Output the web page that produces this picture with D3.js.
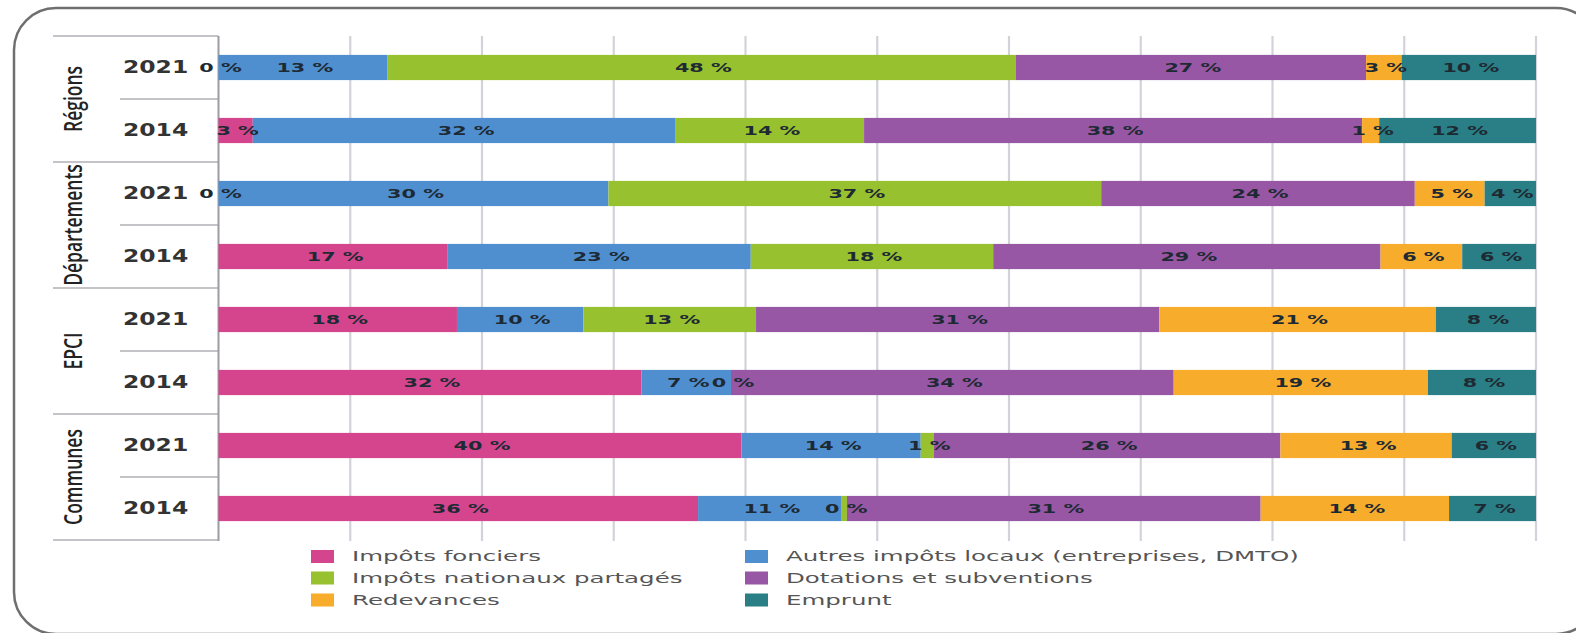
<!DOCTYPE html>
<html>
<head>
<meta charset="utf-8">
<script src="https://cdn.jsdelivr.net/npm/d3@7"></script>
<style>
  html, body { margin: 0; padding: 0; background: #fff; }
  svg { display: block; }
</style>
</head>
<body>
<svg id="chart" width="1576" height="633"></svg>
<script>
// ---- data ----
const groups = ["Régions", "Départements", "EPCI", "Communes"];
const years = ["2021", "2014"];
const seriesNames = [
  "Impôts fonciers",
  "Autres impôts locaux (entreprises, DMTO)",
  "Impôts nationaux partagés",
  "Dotations et subventions",
  "Redevances",
  "Emprunt"
];
const seriesColors = ["#d4458e", "#4f8fd0", "#97c12e", "#9757a5", "#f7ac2c", "#2a7f86"];
// rows: Régions 2021, Régions 2014, Départements 2021, Départements 2014, EPCI 2021, EPCI 2014, Communes 2021, Communes 2014
const impotsFonciers   = [0,    2.6,  0,    17.4, 18.1, 32.1, 39.7, 36.4];
const autresImpots     = [12.8, 32.1, 29.6, 23.0, 9.6,  6.8,  13.6, 10.9];
const impotsNationaux  = [47.7, 14.3, 37.4, 18.4, 13.1, 0,    1.0,  0.4];
const dotations        = [26.6, 37.8, 23.8, 29.4, 30.6, 33.6, 26.3, 31.4];
const redevances       = [2.7,  1.3,  5.3,  6.2,  21.0, 19.3, 13.0, 14.3];
const emprunt          = [10.2, 11.9, 3.9,  5.6,  7.6,  8.2,  6.4,  6.6];
const xTicks = [0, 10, 20, 30, 40, 50, 60, 70, 80, 90, 100];

const seriesValues = [impotsFonciers, autresImpots, impotsNationaux, dotations, redevances, emprunt];

(function () {
// ---- build rows ----
const rows = [];
groups.forEach(g => years.forEach(yr => rows.push({ group: g, year: yr, key: g + "|" + yr })));
rows.forEach((r, i) => seriesNames.forEach((s, j) => { r[s] = seriesValues[j][i]; }));

const svg = d3.select("#chart");

// frame
svg.append("rect")
  .attr("x", 14).attr("y", 8)
  .attr("width", 1584).attr("height", 626)
  .attr("rx", 42).attr("ry", 42)
  .attr("fill", "none").attr("stroke", "#6f6f6f").attr("stroke-width", 2.5);

const yTop = 36, yBottom = 540;
const x = d3.scaleLinear().domain([0, 100]).range([218.5, 1536]);
const y = d3.scaleBand().domain(rows.map(r => r.key)).range([yTop, yBottom]).paddingInner(0).paddingOuter(0);
const color = d3.scaleOrdinal().domain(seriesNames).range(seriesColors);

// gridlines
const grid = svg.append("g");
grid.selectAll("line").data(xTicks.slice(1)).join("line")
  .attr("x1", d => x(d)).attr("x2", d => x(d))
  .attr("y1", yTop).attr("y2", yBottom + 1)
  .attr("stroke", "#d2d3da").attr("stroke-width", 2.2);

// left label column lines
const lines = svg.append("g").attr("stroke", "#c4c4c8").attr("stroke-width", 2);
lines.append("line").attr("x1", 53).attr("x2", x(0)).attr("y1", yTop).attr("y2", yTop);
rows.forEach((r, i) => {
  const yy = y(r.key) + y.bandwidth();
  const isGroupEnd = (i % years.length) === years.length - 1;
  lines.append("line")
    .attr("x1", isGroupEnd ? 53 : 120).attr("x2", x(0))
    .attr("y1", yy).attr("y2", yy);
});
svg.append("line")
  .attr("x1", x(0)).attr("x2", x(0)).attr("y1", yTop).attr("y2", yBottom + 1)
  .attr("stroke", "#9c9ca4").attr("stroke-width", 2);

// stacked bars
const stack = d3.stack().keys(seriesNames);
const stacked = stack(rows);
const barH = y.bandwidth() * 0.4;

const layers = svg.append("g").selectAll("g").data(stacked).join("g")
  .attr("fill", d => color(d.key));
layers.selectAll("rect").data(d => d).join("rect")
  .attr("x", d => x(d[0]))
  .attr("width", d => x(d[1]) - x(d[0]))
  .attr("y", d => y(d.data.key) + (y.bandwidth() - barH) / 2)
  .attr("height", barH);

// value labels
const labelG = svg.append("g");
stacked.forEach(layer => {
  layer.forEach(d => {
    const cx = (x(d[0]) + x(d[1])) / 2;
    const cy = y(d.data.key) + y.bandwidth() / 2;
    labelG.append("text")
      .attr("transform", `translate(${cx + 2},${cy}) scale(1.62,1)`)
      .attr("text-anchor", "middle")
      .attr("dominant-baseline", "central")
      .attr("font-family", "DejaVu Sans, sans-serif")
      .attr("font-weight", "bold")
      .attr("font-size", 12.8)
      .attr("fill", "#1e2a33")
      .text(Math.round(d[1] - d[0]) + " %");
  });
});

// year labels
rows.forEach(r => {
  svg.append("text")
    .attr("transform", `translate(123,${y(r.key) + y.bandwidth() / 2}) scale(1.38,1)`)
    .attr("dominant-baseline", "central")
    .attr("font-family", "DejaVu Sans, sans-serif")
    .attr("font-weight", "bold")
    .attr("font-size", 17)
    .attr("fill", "#333")
    .text(r.year);
});

// group labels (rotated)
groups.forEach(g => {
  const y0 = y(g + "|" + years[0]);
  const y1 = y(g + "|" + years[years.length - 1]) + y.bandwidth();
  svg.append("text")
    .attr("transform", `translate(72,${(y0 + y1) / 2}) rotate(-90) scale(1.0,1.4)`)
    .attr("text-anchor", "middle")
    .attr("dominant-baseline", "central")
    .attr("font-family", "Open Sans, sans-serif")
    .attr("font-weight", 600)
    .attr("font-size", 17.5)
    .attr("fill", "#222")
    .text(g);
});

// legend
const legCols = [311, 745];
const legRows = [556.5, 578, 600];
seriesNames.forEach((s, i) => {
  const cx = legCols[i % 2];
  const cy = legRows[Math.floor(i / 2)];
  svg.append("rect")
    .attr("x", cx).attr("y", cy - 6.5)
    .attr("width", 23).attr("height", 13)
    .attr("fill", color(s));
  svg.append("text")
    .attr("transform", `translate(${cx + 41},${cy}) scale(1.75,1)`)
    .attr("dominant-baseline", "central")
    .attr("font-family", "DejaVu Sans, sans-serif")
    .attr("font-size", 14)
    .attr("fill", "#555")
    .text(s);
});
})();
</script>
</body>
</html>
